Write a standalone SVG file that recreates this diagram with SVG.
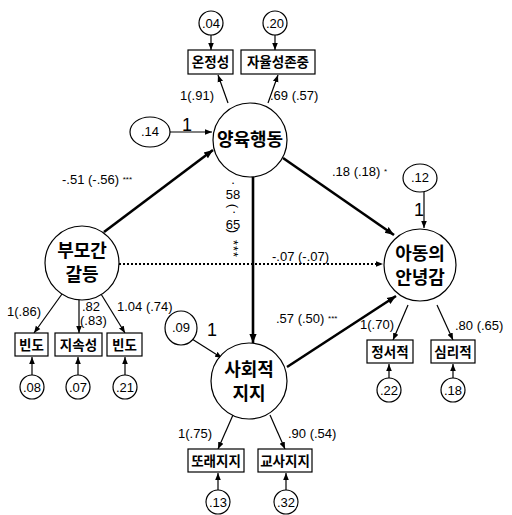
<svg xmlns="http://www.w3.org/2000/svg" width="512" height="515" viewBox="0 0 512 515">
<defs>
<marker id="ah" viewBox="0 0 10 10" refX="10" refY="5" markerWidth="7" markerHeight="7" markerUnits="userSpaceOnUse" orient="auto"><path d="M0,1 L10,5 L0,9 z" fill="#000"/></marker>
<marker id="ahb" viewBox="0 0 10 10" refX="10" refY="5" markerWidth="9" markerHeight="9" markerUnits="userSpaceOnUse" orient="auto"><path d="M0,1 L10,5 L0,9 z" fill="#000"/></marker>
</defs>
<style>
.c{fill:#fff;stroke:#000;stroke-width:1.2}
.b{fill:#fff;stroke:#000;stroke-width:1.2}
.ln{stroke:#000;stroke-width:1.2;fill:none}
.th{stroke:#000;stroke-width:2.6;fill:none}
.dt{stroke:#000;stroke-width:2;stroke-dasharray:2 2;fill:none}
text{fill:#000}
.big{font-family:"Noto Sans CJK KR","Noto Sans",sans-serif;font-weight:bold;font-size:18px;text-anchor:middle}
.bx{font-family:"Noto Sans CJK KR","Noto Sans",sans-serif;font-weight:bold;font-size:13.5px;text-anchor:middle}
.n{font-family:"Liberation Sans",Arial,sans-serif;font-size:13px}
.nm{font-family:"Liberation Sans",Arial,sans-serif;font-size:13px;text-anchor:middle}
.one{font-family:"Liberation Sans",Arial,sans-serif;font-size:18px;text-anchor:middle}
</style>

<g id="connectors">
<line class="th" x1="104" y1="232" x2="213" y2="150" marker-end="url(#ahb)"/>
<line class="th" x1="253" y1="177" x2="253" y2="343" marker-end="url(#ahb)"/>
<line class="th" x1="283" y1="158" x2="394" y2="235" marker-end="url(#ahb)"/>
<line class="th" x1="287" y1="367" x2="396" y2="296" marker-end="url(#ahb)"/>
<line class="dt" x1="119" y1="264" x2="383" y2="264" marker-end="url(#ah)"/>
<line class="ln" x1="170" y1="132" x2="212" y2="132" marker-end="url(#ah)"/>
<line class="ln" x1="424" y1="192" x2="424" y2="228" marker-end="url(#ah)"/>
<line class="ln" x1="192" y1="339" x2="222" y2="358" marker-end="url(#ah)"/>
<line class="ln" x1="228" y1="103" x2="218" y2="75" marker-end="url(#ah)"/>
<line class="ln" x1="268" y1="103" x2="278" y2="75" marker-end="url(#ah)"/>
<line class="ln" x1="211" y1="35" x2="211" y2="50" marker-end="url(#ah)"/>
<line class="ln" x1="275" y1="35" x2="275" y2="50" marker-end="url(#ah)"/>
<line class="ln" x1="62" y1="294" x2="34" y2="333" marker-end="url(#ah)"/>
<line class="ln" x1="79" y1="299" x2="79" y2="333" marker-end="url(#ah)"/>
<line class="ln" x1="101" y1="294" x2="125" y2="333" marker-end="url(#ah)"/>
<line class="ln" x1="32" y1="375" x2="32" y2="357" marker-end="url(#ah)"/>
<line class="ln" x1="78" y1="375" x2="78" y2="357" marker-end="url(#ah)"/>
<line class="ln" x1="125" y1="375" x2="125" y2="357" marker-end="url(#ah)"/>
<line class="ln" x1="408" y1="305" x2="393" y2="340" marker-end="url(#ah)"/>
<line class="ln" x1="437" y1="305" x2="453" y2="340" marker-end="url(#ah)"/>
<line class="ln" x1="389" y1="378" x2="389" y2="364" marker-end="url(#ah)"/>
<line class="ln" x1="453" y1="378" x2="453" y2="364" marker-end="url(#ah)"/>
<line class="ln" x1="233" y1="415" x2="218" y2="449" marker-end="url(#ah)"/>
<line class="ln" x1="270" y1="415" x2="285" y2="449" marker-end="url(#ah)"/>
<line class="ln" x1="218" y1="490" x2="218" y2="473" marker-end="url(#ah)"/>
<line class="ln" x1="286" y1="490" x2="286" y2="473" marker-end="url(#ah)"/>
</g>

<g id="labels">
<text class="n" x="62" y="184">-.51 (-.56) <tspan font-size="8" dy="-2">***</tspan></text>
<text class="n" x="332" y="176">.18 (.18) <tspan font-size="8" dy="-2">*</tspan></text>
<text class="n" x="272" y="261">-.07 (-.07)</text>
<text class="n" x="276" y="323">.57 (.50) <tspan font-size="8" dy="-2">***</tspan></text>
<text class="nm" x="233" y="184">.</text>
<text class="nm" x="233" y="199">58</text>
<text class="nm" transform="translate(229,206) rotate(90)" x="0" y="0">(</text>
<text class="nm" x="234" y="213">.</text>
<text class="nm" x="233" y="229">65</text>
<text class="nm" transform="translate(229,231) rotate(90)" x="0" y="0">)</text>
<text class="n" font-size="9" transform="translate(229,240) rotate(90)" x="0" y="0" letter-spacing="1">***</text>
<text class="n" x="180" y="100">1(.91)</text>
<text class="n" x="270" y="100">.69 (.57)</text>
<text class="one" x="187" y="131">1</text>
<text class="one" x="419" y="216">1</text>
<text class="one" x="212" y="336">1</text>
<text class="n" x="7" y="316">1(.86)</text>
<text class="n" x="82" y="311">.82</text>
<text class="n" x="80" y="325">(.83)</text>
<text class="n" x="117" y="311">1.04 (.74)</text>
<text class="n" x="360" y="329">1(.70)</text>
<text class="n" x="455" y="330">.80 (.65)</text>
<text class="n" x="178" y="438">1(.75)</text>
<text class="n" x="288" y="438">.90 (.54)</text>
</g>

<g id="n-yangyuk"><circle class="c" cx="250" cy="140" r="37"/><text class="big" x="250" y="146">양육행동</text></g>
<g id="n-bumo"><circle class="c" cx="82" cy="263" r="37"/><text class="big" x="82" y="257">부모간</text><text class="big" x="82" y="281">갈등</text></g>
<g id="n-adong"><circle class="c" cx="420" cy="265" r="36"/><text class="big" x="420" y="260">아동의</text><text class="big" x="420" y="284">안녕감</text></g>
<g id="n-sahoe"><circle class="c" cx="249" cy="381" r="38"/><text class="big" x="249" y="376">사회적</text><text class="big" x="249" y="400">지지</text></g>

<g id="d-14"><ellipse class="c" cx="150" cy="132" rx="20" ry="15"/><text class="nm" x="150" y="136">.14</text></g>
<g id="d-12"><ellipse class="c" cx="420" cy="178" rx="17" ry="14"/><text class="nm" x="420" y="182">.12</text></g>
<g id="d-09"><ellipse class="c" cx="181" cy="328" rx="16" ry="17"/><text class="nm" x="181" y="332">.09</text></g>

<g id="b-onjeong"><rect class="b" x="188" y="50" width="45" height="24"/><text class="bx" x="210.5" y="67">온정성</text></g>
<g id="b-jayul"><rect class="b" x="241" y="50" width="74" height="24"/><text class="bx" x="278" y="67">자율성존중</text></g>
<g id="b-bindo1"><rect class="b" x="15" y="333" width="33" height="23"/><text class="bx" x="31.5" y="349.5">빈도</text></g>
<g id="b-jisok"><rect class="b" x="55" y="333" width="47" height="23"/><text class="bx" x="78.5" y="349.5">지속성</text></g>
<g id="b-bindo2"><rect class="b" x="107" y="333" width="35" height="23"/><text class="bx" x="124.5" y="349.5">빈도</text></g>
<g id="b-jeongseo"><rect class="b" x="367" y="340" width="46" height="23"/><text class="bx" x="390" y="356.5">정서적</text></g>
<g id="b-simri"><rect class="b" x="431" y="340" width="44" height="23"/><text class="bx" x="453" y="356.5">심리적</text></g>
<g id="b-ttorae"><rect class="b" x="188" y="449" width="56" height="23"/><text class="bx" x="216" y="465.5">또래지지</text></g>
<g id="b-gyosa"><rect class="b" x="258" y="449" width="54" height="23"/><text class="bx" x="285" y="465.5">교사지지</text></g>

<g id="e-04"><circle class="c" cx="211" cy="23" r="12"/><text class="nm" x="211" y="27.5">.04</text></g>
<g id="e-20"><circle class="c" cx="275" cy="23" r="12"/><text class="nm" x="275" y="27.5">.20</text></g>
<g id="e-08"><circle class="c" cx="32" cy="387" r="12"/><text class="nm" x="32" y="391.5">.08</text></g>
<g id="e-07"><circle class="c" cx="78" cy="387" r="12"/><text class="nm" x="78" y="391.5">.07</text></g>
<g id="e-21"><circle class="c" cx="125" cy="387" r="12"/><text class="nm" x="125" y="391.5">.21</text></g>
<g id="e-22"><circle class="c" cx="389" cy="390" r="12"/><text class="nm" x="389" y="394.5">.22</text></g>
<g id="e-18"><circle class="c" cx="453" cy="390" r="12"/><text class="nm" x="453" y="394.5">.18</text></g>
<g id="e-13"><circle class="c" cx="218" cy="502" r="12"/><text class="nm" x="218" y="506.5">.13</text></g>
<g id="e-32"><circle class="c" cx="286" cy="502" r="12"/><text class="nm" x="286" y="506.5">.32</text></g>
</svg>
